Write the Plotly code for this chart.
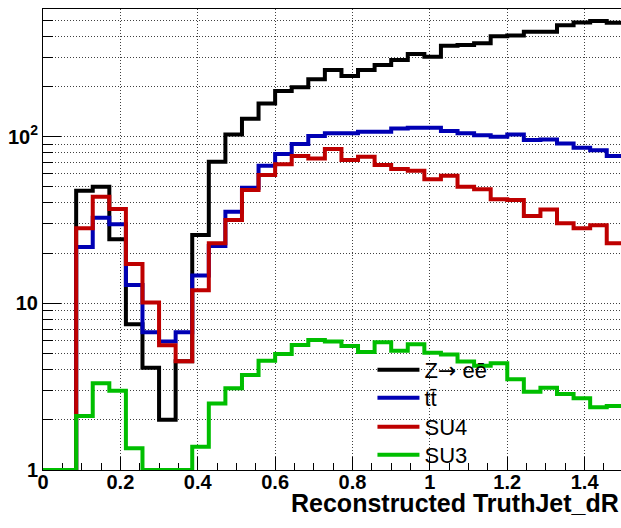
import numpy as np
import plotly.graph_objects as go

# 35 bins of dR over [0, 1.5]
x_min = 0.0
x_max = 1.5
n_bins = 35

zee = [1, 1, 47.4, 50.1, 24.2, 7.5, 4.1, 2.0, 4.5, 25.7, 70.7, 103, 128, 158, 188, 198, 221, 251,
       231, 251, 269, 288, 313, 302, 351, 355, 363, 401, 405, 426, 426, 466, 485, 494, 482]
ttbar = [1, 1, 21.8, 32.6, 29.8, 12.9, 6.7, 5.9, 6.7, 14.7, 22.1, 35.5, 49.4, 66.9, 78.7, 90.3, 101,
         105, 105, 107, 107, 112, 113, 113, 108, 105, 102, 100, 103, 95.4, 96, 91, 85.9, 83, 76.5]
su4 = [1, 1, 28.2, 43.6, 36.8, 17.2, 10.1, 5.6, 4.5, 12.0, 22.9, 31.6, 47.9, 58.8, 68.2, 76.5, 74,
       84.3, 72.4, 75.8, 67.6, 64, 62.5, 55.5, 58.3, 50.1, 48.3, 42.1, 41.7, 33.4, 36.6, 30.2, 28.2,
       29.4, 22.9]
su3 = [1, 1, 2.11, 3.31, 2.99, 1.35, 1, 1, 1, 1.38, 2.51, 3.09, 3.72, 4.53, 4.97, 5.62, 6.03, 5.9,
       5.55, 5.1, 5.84, 5.2, 5.68, 5.06, 4.94, 4.47, 4.22, 4.37, 3.5, 2.95, 3.12, 2.86, 2.69, 2.38, 2.42]

names = ["Z<span style='font-family:DejaVu Sans'>\u2192</span> e\u0113", "t\u0074\u0304", "SU4", "SU3"]
series = [zee, ttbar, su4, su3]
colors = ["#000000", "#0000b4", "#be0000", "#00be00"]
legend_ids = ["legend", "legend2", "legend3", "legend4"]
legend_rows = [0.2169, 0.1562, 0.0933, 0.0325]

x_tickvals = [0, 0.2, 0.4, 0.6, 0.8, 1.0, 1.2, 1.4]
x_ticktext = ["0", "0.2", "0.4", "0.6", "0.8", "1", "1.2", "1.4"]
y_tickvals = [1, 10, 100]
y_ticktext = ["1", "10", "10<sup>2</sup>"]
y_minor = [2, 3, 4, 5, 6, 7, 8, 9, 20, 30, 40, 50, 60, 70, 80, 90, 200, 300, 400, 500]

edges = np.linspace(x_min, x_max, n_bins + 1)

fig = go.Figure()
for name, vals, col, lid in zip(names, series, colors, legend_ids):
    fig.add_trace(go.Scatter(
        x=edges, y=list(vals) + [vals[-1]], mode="lines", name=name, legend=lid,
        line=dict(color=col, width=4, shape="hv"), cliponaxis=False,
    ))

tickfont = dict(family="Liberation Sans", size=20, color="black", weight="bold")
grid_dash = "1px,2px"
grid_col = "rgba(0,0,0,0.75)"

legend_common = dict(x=0.570, xanchor="left", yanchor="middle",
                     bgcolor="rgba(0,0,0,0)", borderwidth=0,
                     font=dict(family="Liberation Sans", size=22, color="black"),
                     itemwidth=42)
legends = {}
for lid, ly in zip(legend_ids, legend_rows):
    legends[lid] = dict(legend_common, y=ly)

fig.update_layout(
    width=621, height=528,
    margin=dict(l=43, r=0, t=9, b=58),
    paper_bgcolor="white", plot_bgcolor="white",
    showlegend=True,
    xaxis=dict(range=[0, 1.494], showline=True, linecolor="black", linewidth=1, mirror=True,
               ticks="inside", ticklen=13, tickcolor="black",
               tickvals=x_tickvals, ticktext=["<b>%s</b>" % t for t in x_ticktext],
               ticklabelstandoff=-6,
               showgrid=True, gridcolor=grid_col, griddash=grid_dash, gridwidth=1,
               minor=dict(dtick=0.05, tick0=0, ticks="inside", ticklen=7, tickcolor="black",
                          showgrid=False),
               tickfont=tickfont, zeroline=False, layer="below traces"),
    yaxis=dict(type="log", range=[0, 2.766], showline=True, linecolor="black", linewidth=1,
               mirror=False, ticks="inside", ticklen=18, tickcolor="black",
               tickvals=y_tickvals, ticktext=["<b>%s</b>" % t for t in y_ticktext],
               showgrid=True, gridcolor=grid_col, griddash=grid_dash, gridwidth=1,
               minor=dict(tickvals=y_minor, ticks="inside", ticklen=10, tickcolor="black",
                          showgrid=True, gridcolor=grid_col, griddash=grid_dash, gridwidth=1),
               tickfont=tickfont, zeroline=False, layer="below traces"),
    annotations=[dict(text="<b>Reconstructed TruthJet_dR</b>", xref="paper", yref="paper",
                      x=1.0, y=-0.071, xanchor="right", yanchor="middle", showarrow=False,
                      font=dict(family="Liberation Sans", size=25, color="black"))],
    **legends,
)

fig.write_html("out.html")
